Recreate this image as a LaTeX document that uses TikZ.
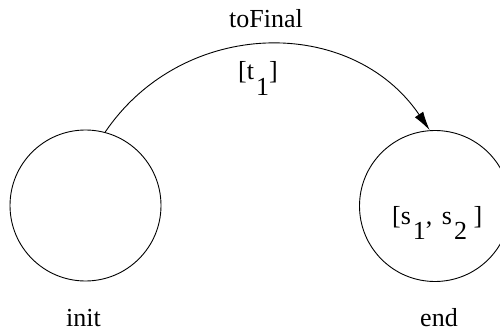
\documentclass[tikz,border=0pt]{standalone}
\usepackage{fontspec}
\setmainfont{Liberation Serif}
\usetikzlibrary{arrows.meta}
\begin{document}
\begin{tikzpicture}[x=1pt,y=-1pt,
  state/.style={draw,circle,minimum size=151pt,inner sep=0pt,line width=0.9pt},
  lbl/.style={inner sep=0pt,anchor=base,font=\fontsize{26}{30}\selectfont},
  trans/.style={line width=0.9pt,-{Latex[length=19pt,width=10pt]}}]
\useasboundingbox (0,0) rectangle (500,331);
\node[state] (init) at (85.5,205.5) {};
\node[state] (end) at (435,206) {};
\node[lbl,anchor=base west] (endtxt) at (392,224) {[s\hspace{2pt}\raisebox{-0.6em}{1}, \hspace{3pt}s\hspace{2pt}\raisebox{-0.6em}{2} ]};
\node[lbl] (initname) at (83.5,326) {init};
\node[lbl] (endname) at (439,326) {end};
\node[lbl] (tname) at (266,28) {toFinal};
\node[lbl] (tguard) at (258,79.5) {[t\hspace{2pt}\raisebox{-0.6em}{1}]};
\draw[trans] (init.75.7) .. controls +(78,-115) and +(-78,-115) .. (end.94.7);
\end{tikzpicture}
\end{document}
